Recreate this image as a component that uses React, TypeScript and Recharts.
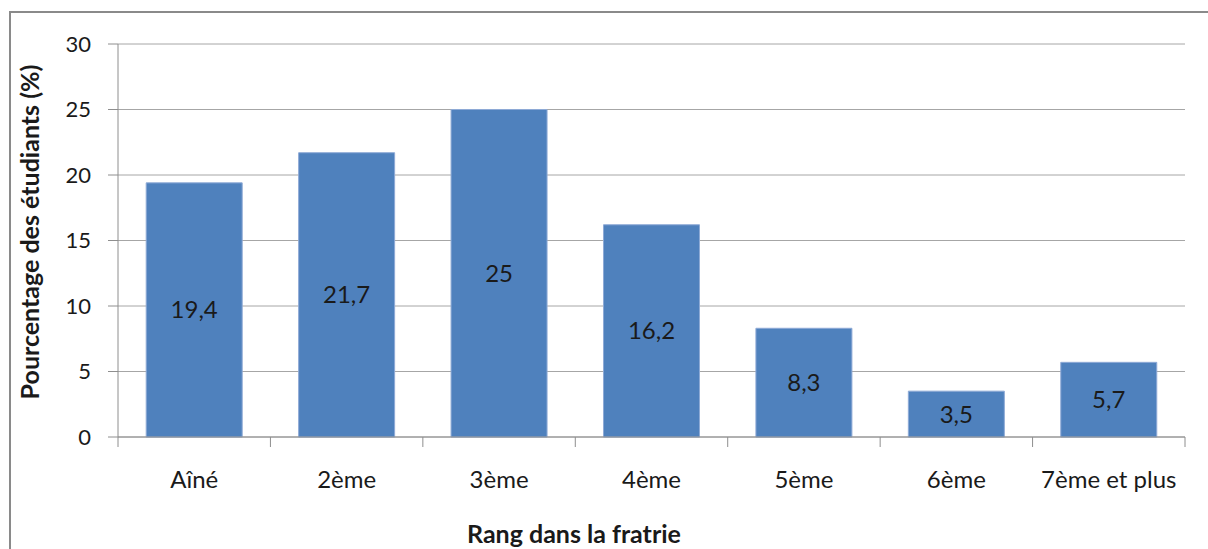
import React from 'react';
import { BarChart, Bar, XAxis, YAxis, CartesianGrid, LabelList, Label } from 'recharts';

const categories = ['Aîné', '2ème', '3ème', '4ème', '5ème', '6ème', '7ème et plus'];
const percentages = [19.4, 21.7, 25, 16.2, 8.3, 3.5, 5.7];
const percentLabels = ['19,4', '21,7', '25', '16,2', '8,3', '3,5', '5,7'];
const yTicks = [0, 5, 10, 15, 20, 25, 30];

const data = categories.map((c, i) => ({ name: c, value: percentages[i], label: percentLabels[i] }));

const W = 1208;
const H = 549;
const M = { top: 44, right: 23, bottom: 0, left: 0 };
const Y_W = 118;
const X_H = 112;
const PLOT_W = W - M.left - M.right - Y_W;
const BAND = PLOT_W / categories.length;
const FONT = "Lato, 'Open Sans', sans-serif";
const AXIS_COLOR = '#8e8e8e';
const TEXT = '#1a1a1a';

const XTick = (props: any) => {
  const { x, y, payload, index } = props;
  const last = index === categories.length - 1;
  return (
    <g>
      <line x1={x - BAND / 2} x2={x - BAND / 2} y1={y} y2={y + 10} stroke={AXIS_COLOR} strokeWidth={1} />
      {last && <line x1={x + BAND / 2} x2={x + BAND / 2} y1={y} y2={y + 10} stroke={AXIS_COLOR} strokeWidth={1} />}
      <text x={x} y={y + 51} textAnchor="middle" fill={TEXT} fontSize={24} fontFamily={FONT}>
        {payload.value}
      </text>
    </g>
  );
};

export default function App() {
  return (
    <div style={{ position: 'absolute', left: 0, top: 0, width: W, height: H, background: '#fff' }}>
      <div
        style={{
          position: 'absolute',
          left: 9,
          top: 11,
          width: W - 9,
          height: H,
          borderLeft: '2px solid #8a8a8a',
          borderTop: '2px solid #8a8a8a',
          boxSizing: 'border-box',
        }}
      />
      <div style={{ position: 'absolute', left: 0, top: 0 }}>
        <BarChart width={W} height={H} data={data} margin={M} barCategoryGap="18.5%">
          <CartesianGrid vertical={false} stroke="#a6a6a6" strokeWidth={1} />
          <XAxis
            dataKey="name"
            height={X_H}
            stroke={AXIS_COLOR}
            tickLine={false}
            tickSize={0}
            tickMargin={0}
            tick={<XTick />}
            interval={0}
          >
            <Label
              content={() => (
                <text x={574} y={537} textAnchor="middle" dominantBaseline="middle" fontSize={25} fontWeight="bold" fontFamily={FONT} fill={TEXT}>
                  Rang dans la fratrie
                </text>
              )}
            />
          </XAxis>
          <YAxis
            width={Y_W}
            domain={[0, 30]}
            ticks={yTicks}
            interval={0}
            stroke={AXIS_COLOR}
            tickSize={10}
            tickMargin={17}
            tick={{ fill: TEXT, fontSize: 22, fontFamily: FONT }}
          >
            <Label
              content={() => (
                <text x={33} y={232} transform="rotate(-90 33 232)" textAnchor="middle" dominantBaseline="middle" fontSize={25} fontWeight="bold" fontFamily={FONT} fill={TEXT}>
                  Pourcentage des étudiants (%)
                </text>
              )}
            />
          </YAxis>
          <Bar dataKey="value" fill="#4f81bd" stroke="#8eaad6" strokeWidth={1} isAnimationActive={false}>
            <LabelList dataKey="label" position="center" fill={TEXT} fontSize={24} fontFamily={FONT} />
          </Bar>
        </BarChart>
      </div>
    </div>
  );
}
